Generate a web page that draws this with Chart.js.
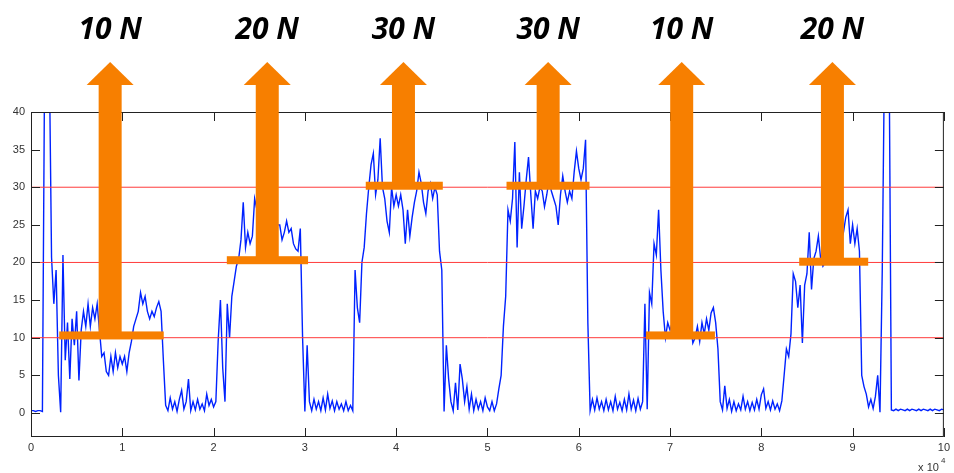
<!DOCTYPE html>
<html>
<head>
<meta charset="utf-8">
<script src="https://cdn.jsdelivr.net/npm/chart.js@4/dist/chart.umd.min.js"></script>
<style>
  html, body { margin: 0; padding: 0; background: #fff; }
  #wrap { width: 954px; height: 473px; }
</style>
</head>
<body>
<div id="wrap"><canvas id="forceChart"></canvas></div>
<script>
// force signal, one array per 1e4 samples, read every 0.025 (x 10^4)
const f0 = [0.3,0.3,0.2,0.3,0.3,0.2,48,48,48,20.7, 14.5,19,5,0.1,21,7,12,4.5,12.5,9, 13.5,4.3,11,13.5,11.5,14.5,11.5,14,12.5,14.5, 11,7.5,8,5.5,5,7.5,5.5,8,6,7.5];
const f1 = [6.5,7.5,5.5,8,9.5,11.5,12.5,13.5,16,14.5, 15.5,13.5,12.5,13.5,12.8,14,14.8,13.5,7,1, 0.3,2,0.5,1.5,0.2,1.8,3,0.5,1.5,4.5, 0.3,1.5,0.4,1.8,0.5,1.2,0.3,2.5,1.0,1.8];
const f2 = [0.8,1.5,9.5,15,6,1.5,14.5,10,15.5,17.5, 19.5,20.5,23,28,22,24,22.5,23.5,28.5,27, 26,25,24,25,24,25,24,23.5,25,25, 23,24,25.5,24,24.5,22.5,21.8,21.5,24.5,10];
const f3 = [0.2,9,1.5,0.3,1.8,0.5,1.5,0.3,2,0.4, 2.5,0.6,1.6,0.3,1.5,0.5,1.2,0.3,1.5,0.3, 1.0,0.3,19,14,12,20,22,26.5,30,33, 34.5,29,31,36.5,30,28.5,25.5,24,30,27.5];
const f4 = [29,27.5,29,27,22.5,27,23.5,26,28,29.5, 32,30.5,28,26.5,29.5,30.5,28.5,30,29,21.5, 19,0.2,9,4.5,1.5,0.3,4,0.4,6.5,4.5, 1.5,3.5,0.5,2.5,0.3,1.8,0.5,1.5,0.3,2];
const f5 = [0.8,0.3,1.5,0.3,1.2,3.2,5,11.5,15.5,27, 25.5,28.5,36,22,32,24.5,27.5,31,34,29, 24.5,29.5,28.5,30,29.5,27.4,29,31,29.5,28.5, 27.5,25,29,31.5,29.5,28,29.5,28.5,32,34.8];
const f6 = [32.5,31,32.5,36.3,12,0.3,1.8,0.4,2,0.5, 1.5,0.3,1.8,0.4,1.5,0.3,2.2,0.5,1.4,0.3, 1.8,0.4,2.5,0.5,1.7,0.3,1.9,0.5,1.5,14.5, 0.5,16,14.5,22.5,21,27,19,13.5,10,12];
const f7 = [11,12,11,12,11.5,12,11,12,11.5,12, 9.3,10,11.5,9.5,12,10.5,12.5,11,13.3,14, 12,8.5,1.5,0.4,3.6,0.6,1.8,0.2,1.5,0.3, 1.2,0.4,2.2,0.5,1.5,0.3,1.4,0.4,1.8,0.5];
const f8 = [2.4,3.2,0.6,1.5,0.4,1.6,0.5,1.2,0.3,1.6, 5,8.5,7.5,10.5,18.5,17.5,14,17,9.3,17, 18.5,24,16.4,20.5,21.5,23.5,20.5,19.5,20,19.8, 20.5,21,20.5,21,22,23,24,26,27,22.5];
const f9 = [25,22.5,24.5,21.5,5,3.5,2.5,0.8,1.8,0.6, 2.2,5,0.1,19,48,48,48,0.4,0.3,0.5, 0.3,0.5,0.4,0.3,0.5,0.3,0.5,0.4,0.3,0.5, 0.3,0.5,0.4,0.3,0.5,0.3,0.5,0.4,0.3,0.5, 0.4]; // last one is x = 10
const sampleStep = 0.025;

const refLevels = [10, 20, 30];

// applied loads (arrows)
const loadLabels = ['10 N', '20 N', '30 N', '30 N', '10 N', '20 N'];
const loadX = [0.867, 2.588, 4.08, 5.665, 7.128, 8.779];
const barLevel = [10.3, 20.3, 30.2, 30.2, 10.3, 20.1];
const barFrom = [0.309, 2.145, 3.667, 5.209, 6.736, 8.415];
const barTo = [1.454, 3.035, 4.511, 6.118, 7.492, 9.171];

const xTicks = [0,1,2,3,4,5,6,7,8,9,10];
const yTicks = [0,5,10,15,20,25,30,35,40];

const signal = [f0,f1,f2,f3,f4,f5,f6,f7,f8,f9].flat().map((v, i) => ({ x: i * sampleStep, y: v }));

const orange = '#f77f00';
const axisColor = '#222';

const overlay = {
  id: 'overlay',
  afterDatasetsDraw(chart) {
    const { ctx, chartArea: a, scales: { x, y } } = chart;
    ctx.save();
    // box and inward ticks, matlab style
    ctx.strokeStyle = axisColor;
    ctx.lineWidth = 1;
    ctx.strokeRect(a.left + 0.5, a.top + 0.5, a.right - a.left - 1, a.bottom - a.top - 1);
    ctx.beginPath();
    xTicks.forEach(t => {
      const px = Math.round(x.getPixelForValue(t)) + 0.5;
      ctx.moveTo(px, a.bottom); ctx.lineTo(px, a.bottom - 9);
      ctx.moveTo(px, a.top); ctx.lineTo(px, a.top + 9);
    });
    yTicks.forEach(t => {
      const py = Math.round(y.getPixelForValue(t)) + 0.5;
      ctx.moveTo(a.left, py); ctx.lineTo(a.left + 9, py);
      ctx.moveTo(a.right, py); ctx.lineTo(a.right - 9, py);
    });
    ctx.stroke();

    // x 10^4 exponent
    ctx.fillStyle = '#333';
    ctx.font = '11px "Liberation Sans", Arial, sans-serif';
    ctx.textAlign = 'right';
    ctx.textBaseline = 'alphabetic';
    ctx.fillText('x 10', a.right - 5, a.bottom + 34);
    ctx.textAlign = 'left';
    ctx.font = '8px "Liberation Sans", Arial, sans-serif';
    ctx.fillText('4', a.right - 3, a.bottom + 26);

    // load arrows
    ctx.fillStyle = orange;
    loadX.forEach((v, i) => {
      const cx = x.getPixelForValue(v);
      const by = y.getPixelForValue(barLevel[i]);
      const x0 = x.getPixelForValue(barFrom[i]);
      const x1 = x.getPixelForValue(barTo[i]);
      const headBase = a.top - 27, tip = a.top - 50;
      ctx.fillRect(x0, by - 4, x1 - x0, 8);
      ctx.fillRect(cx - 11.5, headBase, 23, by - headBase);
      ctx.beginPath();
      ctx.moveTo(cx - 23.5, headBase);
      ctx.lineTo(cx, tip);
      ctx.lineTo(cx + 23.5, headBase);
      ctx.closePath();
      ctx.fill();
    });
    ctx.fillStyle = '#000';
    ctx.font = 'italic bold 30px "Open Sans", sans-serif';
    ctx.textAlign = 'center';
    loadX.forEach((v, i) => {
      ctx.fillText(loadLabels[i], x.getPixelForValue(v), a.top - 73);
    });
    ctx.restore();
  }
};

const refSets = refLevels.map(l => ({
  data: [{ x: 0, y: l }, { x: 10, y: l }],
  borderColor: '#ff3b3b',
  borderWidth: 1,
  pointRadius: 0
}));

new Chart(document.getElementById('forceChart'), {
  type: 'line',
  data: {
    datasets: [
      ...refSets,
      {
        data: signal,
        borderColor: '#0022ff',
        borderWidth: 1.4,
        pointRadius: 0,
        tension: 0
      }
    ]
  },
  options: {
    responsive: true,
    maintainAspectRatio: false,
    animation: false,
    events: [],
    layout: { padding: { top: 112, right: 6, left: 0, bottom: 0 } },
    plugins: { legend: { display: false }, tooltip: { enabled: false } },
    scales: {
      x: {
        type: 'linear', min: 0, max: 10,
        afterBuildTicks: s => { s.ticks = xTicks.map(v => ({ value: v })); },
        afterFit: s => { s.height = 36; },
        grid: { display: false, drawTicks: false },
        border: { display: false },
        ticks: { padding: 4, color: '#333', font: { family: '"Liberation Sans", Arial, sans-serif', size: 11 }, maxRotation: 0 }
      },
      y: {
        type: 'linear', min: -3.2, max: 40,
        afterBuildTicks: s => { s.ticks = yTicks.map(v => ({ value: v })); },
        afterFit: s => { s.width = 31; },
        grid: { display: false, drawTicks: false },
        border: { display: false },
        ticks: { padding: 6, color: '#333', font: { family: '"Liberation Sans", Arial, sans-serif', size: 11 } }
      }
    }
  },
  plugins: [overlay]
});
</script>
</body>
</html>
